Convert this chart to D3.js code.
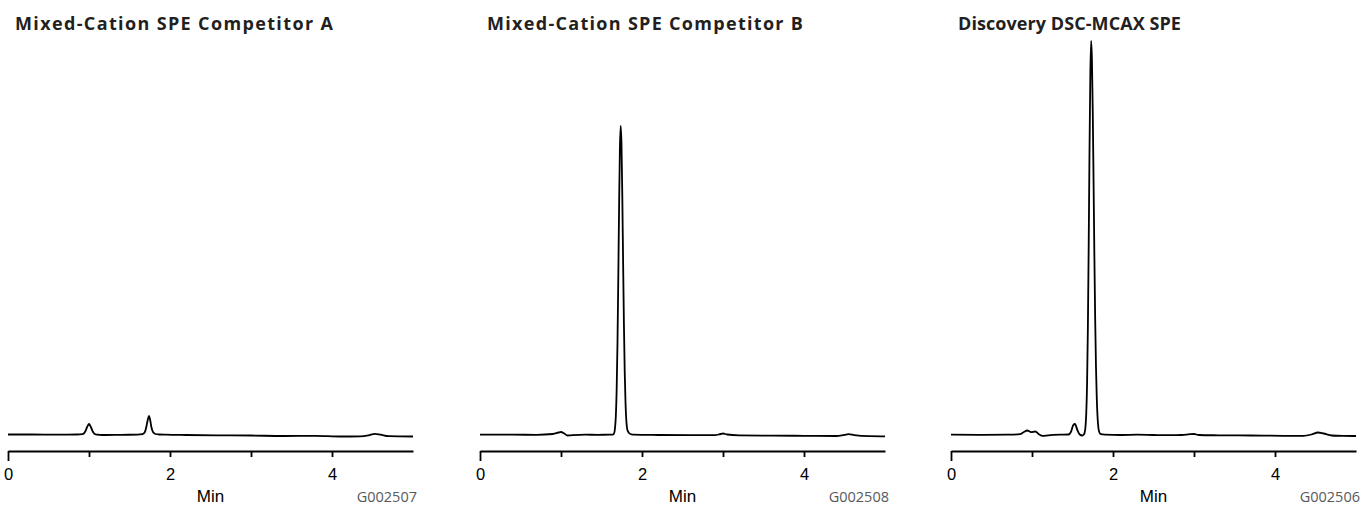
<!DOCTYPE html>
<html>
<head>
<meta charset="utf-8">
<script src="https://cdn.jsdelivr.net/npm/d3@7"></script>
<style>
  html, body { margin: 0; padding: 0; background: #fff; }
  svg { display: block; }
</style>
</head>
<body>
<svg id="chart" width="1361" height="506"></svg>
<script>
// ---------- DATA ----------
const titles = ["Mixed-Cation SPE Competitor A", "Mixed-Cation SPE Competitor B", "Discovery DSC-MCAX SPE"];
const codes = ["G002507", "G002508", "G002506"];
const xLabel = "Min";
const tickValues = [0, 1, 2, 3, 4];
const tickLabels = ["0", "", "2", "", "4"];

// trace points: [time (min), signal]
const traceA = [
  [0.00, 0.5], [0.30, 0.5], [0.60, 0.3], [0.85, 0.5], [0.92, 0.8], [0.95, 3], [0.98, 8.5],
  [1.00, 11], [1.02, 8.5], [1.05, 3], [1.08, 0.6], [1.13, 0.2], [1.20, 0], [1.40, 0.2],
  [1.60, 0.3], [1.66, 0.8], [1.69, 3], [1.71, 9], [1.725, 15], [1.74, 19], [1.755, 15],
  [1.77, 8], [1.79, 3], [1.82, 1], [1.87, 0.5], [1.95, 0.3], [2.20, 0], [2.60, -0.3],
  [3.00, -0.5], [3.40, -1], [3.80, -0.8], [4.10, -1.5], [4.35, -1.3], [4.45, -0.3],
  [4.53, 1.2], [4.60, 0.3], [4.70, -1.2], [5.00, -1.5]
];
const traceB = [
  [0.00, 0.3], [0.40, 0.3], [0.70, 0.2], [0.90, 1], [0.97, 2.5], [1.00, 3], [1.04, 1.5],
  [1.08, -0.5], [1.12, -0.3], [1.30, 0.3], [1.45, 0.2], [1.60, 0.3], [1.64, 0.3],
  [1.657, 2], [1.667, 7], [1.677, 19], [1.687, 45], [1.697, 90], [1.707, 155], [1.717, 227],
  [1.727, 286], [1.737, 309], [1.747, 290], [1.757, 238], [1.767, 172], [1.777, 110],
  [1.787, 62], [1.797, 31], [1.807, 14], [1.82, 5], [1.84, 2], [1.87, 0.6], [1.90, 0.3],
  [2.20, 0], [2.60, -0.2], [2.90, -0.2], [2.97, 1], [3.00, 1.5], [3.05, 0.5], [3.20, -0.3],
  [3.60, -0.6], [4.00, -0.8], [4.40, -1], [4.50, 0.2], [4.55, 0.8], [4.62, -0.2],
  [4.80, -1.2], [5.00, -1.3]
];
const traceC = [
  [0.00, 0.3], [0.40, 0.2], [0.70, 0.3], [0.85, 0.8], [0.90, 3], [0.94, 4.5], [0.99, 2.8],
  [1.04, 3.5], [1.09, 0.5], [1.13, -0.8], [1.20, -0.3], [1.35, 0.3], [1.45, 0.5],
  [1.48, 3], [1.51, 10], [1.53, 11], [1.56, 5], [1.59, 0.5], [1.62, -0.5], [1.64, 0.5],
  [1.65, 2.5], [1.66, 8], [1.67, 22], [1.68, 52], [1.69, 108], [1.70, 190], [1.71, 285],
  [1.72, 360], [1.73, 394], [1.74, 375], [1.75, 324], [1.76, 254], [1.77, 180], [1.78, 116],
  [1.79, 68], [1.80, 36], [1.81, 17], [1.82, 7], [1.83, 3], [1.85, 0.8], [1.90, 0.3],
  [2.10, 0], [2.30, 0.3], [2.50, 0], [2.70, -0.2], [2.85, 0], [2.95, 0.8], [3.00, 1],
  [3.06, 0], [3.30, -0.3], [3.70, -0.5], [4.10, -0.8], [4.35, -0.8], [4.45, 0.5],
  [4.53, 2.5], [4.60, 1.5], [4.70, -0.5], [4.85, -0.9], [5.00, -1]
];
const traces = [traceA, traceB, traceC];

// ---------- LAYOUT ----------
const svg = d3.select("#chart");
const panelX = [8, 480, 951];
const panelW = 405;
const axisY = 451;
const titleTargetWidths = [318, 316, 223]; // title widths measured in the reference

const y = d3.scaleLinear().domain([0, 400]).range([435, 35]);

const line = d3.line()
  .x(d => d[0])
  .y(d => d[1])
  .curve(d3.curveMonotoneX);

const titleFont = "'Open Sans', 'Noto Sans', sans-serif";
const labelFont = "'Liberation Sans', Arial, sans-serif";

traces.forEach((tr, i) => {
  const x0 = panelX[i];
  const x = d3.scaleLinear().domain([0, 5]).range([x0, x0 + panelW]);
  const g = svg.append("g");

  // title
  const t = g.append("text")
    .attr("x", x0 + 7)
    .attr("y", 30)
    .attr("font-family", titleFont)
    .attr("font-weight", 700)
    .attr("font-size", 18)
    .attr("fill", "#231f20")
    .text(titles[i]);
  const w = t.node().getComputedTextLength();
  const ls = Math.max(0, (titleTargetWidths[i] - w) / (titles[i].length - 1));
  t.attr("letter-spacing", ls.toFixed(2));

  // trace
  g.append("path")
    .datum(tr.map(d => [x(d[0]), y(d[1])]))
    .attr("d", line)
    .attr("fill", "none")
    .attr("stroke", "#000")
    .attr("stroke-width", 1.8)
    .attr("stroke-linejoin", "round");

  // axis
  const axis = d3.axisBottom(x)
    .tickValues(tickValues)
    .tickSize(6)
    .tickSizeOuter(0)
    .tickFormat((d, k) => tickLabels[k]);
  const ag = g.append("g")
    .attr("transform", `translate(0,${axisY})`)
    .call(axis);
  ag.select(".domain").attr("stroke", "#000").attr("stroke-width", 2);
  ag.selectAll(".tick line").attr("stroke", "#000").attr("stroke-width", 1.8)
    .attr("y2", d => d === 0 ? 10 : 6);
  ag.selectAll(".tick text")
    .attr("y", 29).attr("dy", 0)
    .attr("font-family", labelFont)
    .attr("font-size", 16.5)
    .attr("fill", "#000");

  // x label
  g.append("text")
    .attr("x", x0 + panelW / 2)
    .attr("y", 502)
    .attr("text-anchor", "middle")
    .attr("font-family", labelFont)
    .attr("font-size", 17)
    .attr("fill", "#000")
    .text(xLabel);

  // figure code
  g.append("text")
    .attr("x", x0 + panelW + 4)
    .attr("y", 502)
    .attr("text-anchor", "end")
    .attr("font-family", titleFont)
    .attr("font-size", 14.5)
    .attr("fill", "#58595b")
    .text(codes[i]);
});
</script>
</body>
</html>
